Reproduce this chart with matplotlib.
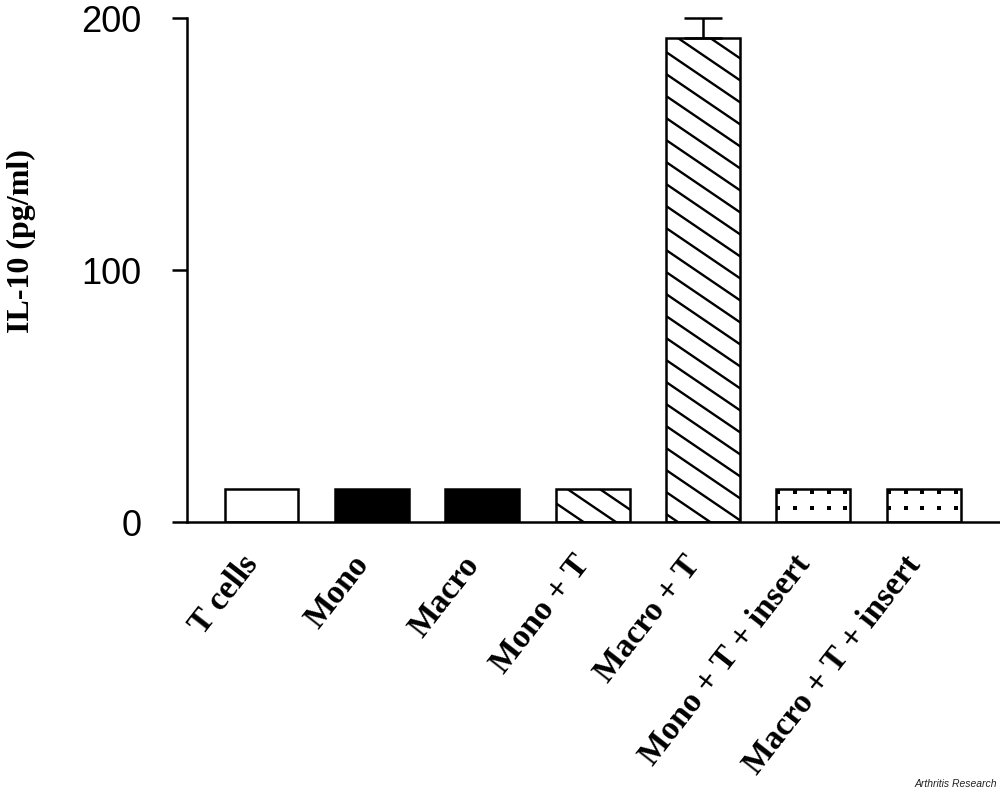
import numpy as np
import matplotlib
matplotlib.use("Agg")
import matplotlib.pyplot as plt
from matplotlib.lines import Line2D
from matplotlib.transforms import ScaledTranslation

# ---- data ----
categories = ["T cells", "Mono", "Macro", "Mono + T", "Macro + T",
              "Mono + T + insert", "Macro + T + insert"]
values = [13, 13, 13, 13, 192, 13, 13]
err_upper = [0, 0, 0, 0, 8, 0, 0]
fills = ["white", "black", "black", "white", "white", "white", "white"]
patterns = ["", "", "", "diag", "diag", "dots", "dots"]
y_ticks = [0, 100, 200]

W, H, DPI = 1000, 799, 100
fig = plt.figure(figsize=(W / DPI, H / DPI), dpi=DPI)
ax = fig.add_axes([187 / W, (H - 522) / H, (1000 - 187) / W, (522 - 18) / H])

x = np.arange(len(categories))
bw = 0.67
ax.set_xlim(-0.675, 6.69)
ax.set_ylim(0, 200)

bars = ax.bar(x, values, width=bw, color=fills, edgecolor="none", zorder=1)

to_disp = ax.transData
to_data = ax.transData.inverted()

# decorations (hatch lines & dots), clipped to bars
for patch, pat in zip(bars, patterns):
    if not pat:
        continue
    x0d, y0d = patch.get_x(), patch.get_y()
    x1d, y1d = x0d + patch.get_width(), y0d + patch.get_height()
    (px0, py0), (px1, py1) = to_disp.transform([(x0d, y0d), (x1d, y1d)])
    if pat == "diag":
        slope = 0.68
        vsp = 22.0
        c0 = py1 + slope * 12
        ks = np.arange(-5, int((py1 - py0) / vsp) + 10)
        for k in ks:
            c = c0 - k * vsp
            xa, xb = px0 - 5, px1 + 5
            ya = c - slope * (xa - px0)
            yb = c - slope * (xb - px0)
            pts = to_data.transform([(xa, ya), (xb, yb)])
            ln = Line2D(pts[:, 0], pts[:, 1], color="black", lw=1.7,
                        zorder=2, solid_capstyle="butt")
            ax.add_line(ln)
            ln.set_clip_path(patch)
    elif pat == "dots":
        xs = np.arange(px0 + 2, px1 + 1, 16.7)
        ys = np.arange(py1 - 3, py0 - 1, -16.0)
        gx, gy = np.meshgrid(xs, ys)
        pts = to_data.transform(np.column_stack([gx.ravel(), gy.ravel()]))
        sc = ax.scatter(pts[:, 0], pts[:, 1], s=8, marker="s", color="black",
                        linewidths=0, zorder=2)
        sc.set_clip_path(patch)

# outlines on top
ax.bar(x, values, width=bw, fill=False, edgecolor="black", linewidth=1.8,
       zorder=3)

# error bars (upper only)
for xi, v, e in zip(x, values, err_upper):
    if e > 0:
        ax.errorbar(xi, v, yerr=[[0], [e]], fmt="none", ecolor="black",
                    elinewidth=1.8, capsize=14, capthick=1.8, zorder=2,
                    clip_on=False)

for s in ["top", "right"]:
    ax.spines[s].set_visible(False)
for s in ["left", "bottom"]:
    ax.spines[s].set_linewidth(1.8)

ax.set_yticks(y_ticks)
ax.set_yticklabels([str(t) for t in y_ticks], family="Liberation Sans",
                   fontsize=26)
ax.tick_params(axis="y", direction="out", length=11, width=1.8, pad=22)
ax.set_xticks(x)
ax.set_xticklabels(categories, rotation=52, ha="right", va="top",
                   rotation_mode="anchor", family="Liberation Serif",
                   fontweight="bold", fontsize=24)
ax.tick_params(axis="x", length=0, pad=20)
off = ScaledTranslation(-21 / DPI, 0, fig.dpi_scale_trans)
for lab in ax.get_xticklabels():
    lab.set_transform(lab.get_transform() + off)

fig.text(21 / W, (H - 241) / H, "IL-10 (pg/ml)", rotation=90, ha="center",
         va="center", family="Liberation Serif", fontweight="bold",
         fontsize=23)

fig.text(0.997, 0.012, "Arthritis Research", ha="right", va="bottom",
         family="Liberation Sans", style="italic", fontsize=7.5,
         color="#222222")

fig.savefig("out.png", dpi=DPI)
